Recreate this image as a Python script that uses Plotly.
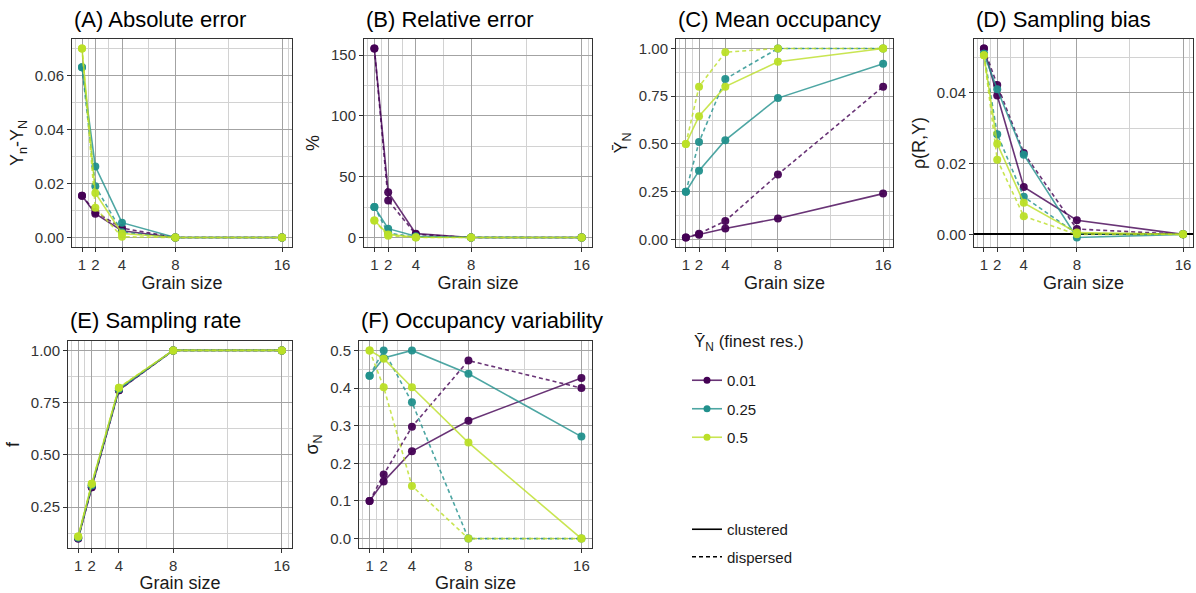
import plotly.graph_objects as go

W, H = 1196, 593
FONT = "Liberation Sans, Arial, sans-serif"

# ---------------- data ----------------
grain = [1, 2, 4, 8, 16]
grain_ticktext = ["1", "2", "4", "8", "16"]
grain_minor = [0.5, 1.5, 3, 6, 12, 16.5]
levels = ["0.01", "0.25", "0.5"]
colors = ["#440154", "#21908C", "#BBDF27"]
patterns = ["clustered", "dispersed"]

# (A) absolute error, rows = levels 0.01, 0.25, 0.5
abs_clu = [[0.0155, 0.0088, 0.0025, 0.0, 0.0],
           [0.0630, 0.0263, 0.0055, 0.0, 0.0],
           [0.0700, 0.0165, 0.0015, 0.0, 0.0]]
abs_dis = [[0.0155, 0.0095, 0.0035, 0.0, 0.0],
           [0.0630, 0.0190, 0.0020, 0.0, 0.0],
           [0.0700, 0.0110, 0.0003, 0.0, 0.0]]
# (B) relative error (%)
rel_clu = [[155.5, 37.3, 3.2, 0.0, 0.0],
           [25.2, 7.3, 1.1, 0.0, 0.0],
           [14.0, 2.6, 0.2, 0.0, 0.0]]
rel_dis = [[155.5, 30.5, 2.6, 0.0, 0.0],
           [25.2, 3.7, 0.3, 0.0, 0.0],
           [14.0, 1.4, 0.03, 0.0, 0.0]]
# (C) mean occupancy
occ_clu = [[0.01, 0.025, 0.057, 0.11, 0.24],
           [0.25, 0.36, 0.52, 0.74, 0.92],
           [0.50, 0.645, 0.80, 0.93, 1.00]]
occ_dis = [[0.01, 0.03, 0.097, 0.34, 0.80],
           [0.25, 0.51, 0.84, 1.00, 1.00],
           [0.50, 0.80, 0.98, 1.00, 1.00]]
# (D) sampling bias
bias_clu = [[0.0525, 0.0392, 0.0134, 0.0040, 0.0],
            [0.0510, 0.0410, 0.0225, -0.0009, 0.0],
            [0.0506, 0.0256, 0.0089, 0.0005, 0.0]]
bias_dis = [[0.0525, 0.0422, 0.0230, 0.0015, 0.0],
            [0.0510, 0.0283, 0.0106, 0.0002, 0.0],
            [0.0506, 0.0211, 0.0051, 0.0000, 0.0]]
# (E) sampling rate
rate_clu = [[0.100, 0.345, 0.810, 1.0, 1.0],
            [0.105, 0.355, 0.815, 1.0, 1.0],
            [0.110, 0.362, 0.822, 1.0, 1.0]]
rate_dis = [[0.100, 0.345, 0.810, 1.0, 1.0],
            [0.105, 0.355, 0.815, 1.0, 1.0],
            [0.110, 0.362, 0.822, 1.0, 1.0]]
# (F) occupancy variability
var_clu = [[0.100, 0.152, 0.232, 0.313, 0.427],
           [0.433, 0.480, 0.500, 0.438, 0.271],
           [0.500, 0.478, 0.402, 0.255, 0.000]]
var_dis = [[0.100, 0.170, 0.297, 0.473, 0.400],
           [0.433, 0.500, 0.362, 0.000, 0.000],
           [0.500, 0.402, 0.140, 0.000, 0.000]]

legend_title = "\u0232<sub>N</sub> (finest res.)"

panels = [
    dict(title="(A) Absolute error", ytitle="Y<sub>n</sub>-Y<sub>N</sub>",
         clu=abs_clu, dis=abs_dis, box=(72, 292, 39, 247),
         yt=[0, 0.02, 0.04, 0.06], ytt=["0.00", "0.02", "0.04", "0.06"],
         ym=[0.01, 0.03, 0.05, 0.07], zero=False),
    dict(title="(B) Relative error", ytitle="%",
         clu=rel_clu, dis=rel_dis, box=(364, 592, 39, 247),
         yt=[0, 50, 100, 150], ytt=["0", "50", "100", "150"],
         ym=[25, 75, 125], zero=False),
    dict(title="(C) Mean occupancy", ytitle="\u0232<sub>N</sub>",
         clu=occ_clu, dis=occ_dis, box=(676, 893, 39, 247),
         yt=[0, 0.25, 0.5, 0.75, 1.0], ytt=["0.00", "0.25", "0.50", "0.75", "1.00"],
         ym=[0.125, 0.375, 0.625, 0.875], zero=False),
    dict(title="(D) Sampling bias", ytitle="\u03c1(R,Y)",
         clu=bias_clu, dis=bias_dis, box=(974, 1193, 39, 247),
         yt=[0, 0.02, 0.04], ytt=["0.00", "0.02", "0.04"],
         ym=[0.01, 0.03, 0.05], zero=True),
    dict(title="(E) Sampling rate", ytitle="f",
         clu=rate_clu, dis=rate_dis, box=(68, 292, 341, 548),
         yt=[0.25, 0.5, 0.75, 1.0], ytt=["0.25", "0.50", "0.75", "1.00"],
         ym=[0.125, 0.375, 0.625, 0.875], zero=False),
    dict(title="(F) Occupancy variability", ytitle="\u03c3<sub>N</sub>",
         clu=var_clu, dis=var_dis, box=(359, 592, 341, 548),
         yt=[0, 0.1, 0.2, 0.3, 0.4, 0.5], ytt=["0.0", "0.1", "0.2", "0.3", "0.4", "0.5"],
         ym=[0.05, 0.15, 0.25, 0.35, 0.45], zero=False),
]


def rgba(hexc, a):
    h = hexc.lstrip("#")
    r, g, b = int(h[0:2], 16), int(h[2:4], 16), int(h[4:6], 16)
    return f"rgba({r},{g},{b},{a})"


fig = go.Figure()
layout = dict(
    width=W, height=H, margin=dict(l=0, r=0, t=0, b=0),
    paper_bgcolor="white", plot_bgcolor="white",
    font=dict(family=FONT, size=15, color="#1a1a1a"),
    annotations=[],
)

MAJOR_GRID = "#a3a3a3"
MINOR_GRID = "#d2d2d2"
xpad = 0.05 * (max(grain) - min(grain))

for i, p in enumerate(panels):
    n = "" if i == 0 else str(i + 1)
    xa, ya = "x" + n, "y" + n
    x0, x1, y0, y1 = p["box"]
    allv = [v for row in p["clu"] + p["dis"] for v in row]
    lo, hi = min(allv), max(allv)
    ypad = 0.05 * (hi - lo)

    for lvl, col, rc, rd in zip(levels, colors, p["clu"], p["dis"]):
        for pat, vals in (("dispersed", rd), ("clustered", rc)):
            fig.add_trace(go.Scatter(
                x=grain, y=vals, xaxis=xa, yaxis=ya, mode="lines+markers",
                line=dict(color=rgba(col, 0.8), width=1.6,
                          dash="solid" if pat == "clustered" else "4px,3px"),
                marker=dict(color=rgba(col, 0.95), size=8, line=dict(width=0)),
                showlegend=False, hoverinfo="skip",
            ))

    common = dict(
        showline=True, mirror=True, linecolor="#333333", linewidth=1,
        ticks="outside", ticklen=4, tickcolor="#333333", tickwidth=1,
        tickfont=dict(size=15, color="#333333", family=FONT),
        showgrid=True, gridcolor=MAJOR_GRID, gridwidth=1,
    )
    layout["xaxis" + n] = dict(
        common, domain=[x0 / W, x1 / W], anchor=ya,
        range=[min(grain) - xpad, max(grain) + xpad],
        tickmode="array", tickvals=grain, ticktext=grain_ticktext,
        minor=dict(tickmode="array", tickvals=grain_minor, showgrid=True,
                   gridcolor=MINOR_GRID, gridwidth=1, ticks=""),
        zeroline=False,
        title=dict(text="Grain size", font=dict(size=18, color="#1a1a1a"), standoff=4),
    )
    layout["yaxis" + n] = dict(
        common, domain=[1 - y1 / H, 1 - y0 / H], anchor=xa,
        range=[lo - ypad, hi + ypad],
        tickmode="array", tickvals=p["yt"], ticktext=p["ytt"],
        minor=dict(tickmode="array", tickvals=p["ym"], showgrid=True,
                   gridcolor=MINOR_GRID, gridwidth=1, ticks=""),
        zeroline=p["zero"], zerolinecolor="black", zerolinewidth=1.6,
        title=dict(text=p["ytitle"], font=dict(size=18, color="#1a1a1a"), standoff=6),
    )
    title_y = 20 if y0 < 100 else 320
    layout["annotations"].append(dict(
        text=p["title"], xref="paper", yref="paper", x=x0 / W, y=1 - title_y / H,
        xanchor="left", yanchor="middle", showarrow=False,
        font=dict(size=22, color="black", family=FONT),
    ))

# legend title (colour legend)
layout["annotations"].append(dict(
    text=legend_title, xref="paper", yref="paper", x=692 / W, y=1 - 343 / H,
    xanchor="left", yanchor="middle", showarrow=False,
    font=dict(size=17, color="#1a1a1a", family=FONT),
))

# legend entries (colour = level at finest resolution)
for k, (lvl, col) in enumerate(zip(levels, colors)):
    fig.add_trace(go.Scatter(
        x=[None], y=[None], mode="lines+markers", name=lvl,
        line=dict(color=rgba(col, 0.8), width=1.6),
        marker=dict(color=col, size=7),
        legend="legend", legendgroup="lvl" + str(k), showlegend=True,
    ))
# legend entries (linetype = spatial pattern)
for k, pat in enumerate(patterns):
    fig.add_trace(go.Scatter(
        x=[None], y=[None], mode="lines", name=pat,
        line=dict(color="black", width=1.6,
                  dash="solid" if pat == "clustered" else "4px,3px"),
        legend="legend2", legendgroup="pat" + str(k), showlegend=True,
    ))

layout["legend"] = dict(
    x=687 / W, y=1 - 364 / H, xanchor="left", yanchor="top",
    font=dict(size=15, color="#1a1a1a"), bgcolor="rgba(0,0,0,0)",
    tracegroupgap=6, itemwidth=30,
)
layout["legend2"] = dict(
    x=687 / W, y=1 - 513 / H, xanchor="left", yanchor="top",
    font=dict(size=15, color="#1a1a1a"), bgcolor="rgba(0,0,0,0)",
    tracegroupgap=5, itemwidth=30,
)

fig.update_layout(**layout)
fig.write_html("out.html")
